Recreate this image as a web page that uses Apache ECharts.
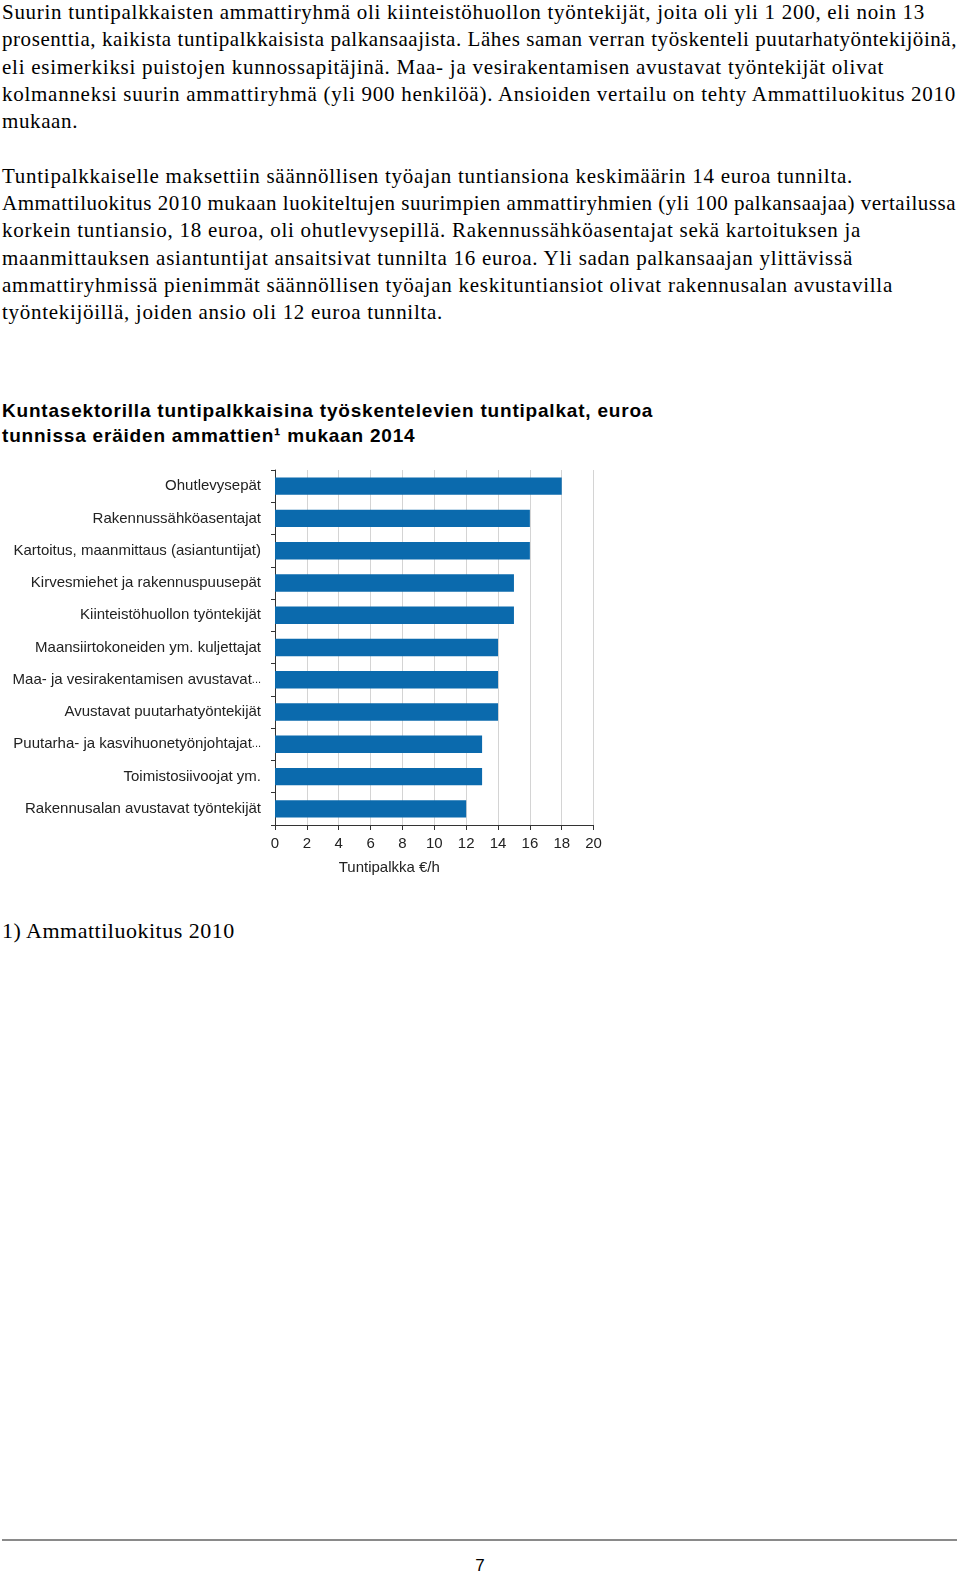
<!DOCTYPE html>
<html>
<head>
<meta charset="utf-8">
<script src="https://cdn.jsdelivr.net/npm/echarts@6/dist/echarts.min.js"></script>
<style>
    html, body { margin: 0; padding: 0; background: #fff; }
    body { width: 960px; height: 1572px; position: relative; overflow: hidden; }
    .txt {
        position: absolute; left: 2px;
        font-family: "Liberation Serif", "Times New Roman", serif;
        font-size: 21px; line-height: 27.3px; color: #000; white-space: nowrap;
    }
    .txt span { display: inline-block; }
    .title {
        position: absolute; left: 2px; top: 398px;
        font-family: "Liberation Sans", Arial, sans-serif;
        font-weight: bold; font-size: 19px; letter-spacing: 0.8px; line-height: 25px; color: #000; white-space: nowrap;
    }
    #chart { position: absolute; left: 0; top: 460px; width: 640px; height: 420px; }
    .rule { position: absolute; left: 2px; width: 955px; top: 1539px; border-top: 2px solid #8a8a8a; }
    .page { position: absolute; left: 0; width: 960px; top: 1556px; text-align: center;
        font-family: "Liberation Sans", Arial, sans-serif; font-size: 17px; }
</style>
</head>
<body>
<div class="txt" style="top:-1px">
<span data-w="925">Suurin tuntipalkkaisten ammattiryhmä oli kiinteistöhuollon työntekijät, joita oli yli 1 200, eli noin 13</span><br>
<span data-w="957">prosenttia, kaikista tuntipalkkaisista palkansaajista. Lähes saman verran työskenteli puutarhatyöntekijöinä,</span><br>
<span data-w="884">eli esimerkiksi puistojen kunnossapitäjinä. Maa- ja vesirakentamisen avustavat työntekijät olivat</span><br>
<span data-w="956">kolmanneksi suurin ammattiryhmä (yli 900 henkilöä). Ansioiden vertailu on tehty Ammattiluokitus 2010</span><br>
<span data-w="78">mukaan.</span><br>
<br>
<span data-w="853">Tuntipalkkaiselle maksettiin säännöllisen työajan tuntiansiona keskimäärin 14 euroa tunnilta.</span><br>
<span data-w="956">Ammattiluokitus 2010 mukaan luokiteltujen suurimpien ammattiryhmien (yli 100 palkansaajaa) vertailussa</span><br>
<span data-w="861">korkein tuntiansio, 18 euroa, oli ohutlevysepillä. Rakennussähköasentajat sekä kartoituksen ja</span><br>
<span data-w="853">maanmittauksen asiantuntijat ansaitsivat tunnilta 16 euroa. Yli sadan palkansaajan ylittävissä</span><br>
<span data-w="893">ammattiryhmissä pienimmät säännöllisen työajan keskituntiansiot olivat rakennusalan avustavilla</span><br>
<span data-w="443">työntekijöillä, joiden ansio oli 12 euroa tunnilta.</span>
</div>

<div class="title">
Kuntasektorilla tuntipalkkaisina työskentelevien tuntipalkat, euroa<br>
tunnissa eräiden ammattien¹ mukaan 2014
</div>

<div id="chart"></div>

<div class="txt" style="top:917px; font-size:22px; letter-spacing:0.5px;">1) Ammattiluokitus 2010</div>

<div class="rule"></div>
<div class="page">7</div>

<script>
    // tekstirivien leveys kuten alkuperäisessä
    document.querySelectorAll('.txt span[data-w]').forEach(function (el) {
        var target = +el.getAttribute('data-w') - 2;
        var natural = el.getBoundingClientRect().width;
        var n = el.textContent.length;
        el.style.letterSpacing = ((target - natural) / n).toFixed(3) + 'px';
    });

    // ammatit ylhäältä alas
    var occupations = [
        'Ohutlevysepät',
        'Rakennussähköasentajat',
        'Kartoitus, maanmittaus (asiantuntijat)',
        'Kirvesmiehet ja rakennuspuusepät',
        'Kiinteistöhuollon työntekijät',
        'Maansiirtokoneiden ym. kuljettajat',
        'Maa- ja vesirakentamisen avustavat...',
        'Avustavat puutarhatyöntekijät',
        'Puutarha- ja kasvihuonetyönjohtajat...',
        'Toimistosiivoojat ym.',
        'Rakennusalan avustavat työntekijät'
    ];
    var hourlyPay = [18, 16, 16, 15, 15, 14, 14, 14, 13, 13, 12];
    var axisTicks = [0, 2, 4, 6, 8, 10, 12, 14, 16, 18, 20];

    var myChart = echarts.init(document.getElementById('chart'));
    myChart.setOption({
        animation: false,
        textStyle: { fontFamily: 'Liberation Sans, Arial, sans-serif' },
        grid: { left: 275, top: 10, width: 318.6, height: 356.7 },
        xAxis: {
            type: 'value',
            min: axisTicks[0],
            max: axisTicks[axisTicks.length - 1],
            interval: 2,
            name: 'Tuntipalkka €/h',
            nameLocation: 'middle',
            nameGap: 35,
            nameTextStyle: { color: '#222', fontSize: 15, padding: [0, 90, 0, 0] },
            axisLine: { show: true, lineStyle: { color: '#333', width: 1 } },
            axisTick: { show: true, length: 5, lineStyle: { color: '#333' } },
            axisLabel: { color: '#222', fontSize: 15, margin: 11 },
            splitLine: { show: true, lineStyle: { color: '#d4d4d4' } }
        },
        yAxis: {
            type: 'category',
            inverse: true,
            data: occupations,
            axisLine: { show: true, lineStyle: { color: '#333', width: 1 } },
            axisTick: { show: true, length: 4, lineStyle: { color: '#333' } },
            axisLabel: {
                color: '#222', fontSize: 15, margin: 14,
                formatter: function (v) {
                    // katkaistut nimet: pisteet pienempinä kuten kuvassa
                    if (v.slice(-3) === '...') {
                        return v.slice(0, -3) + '{dots|...}';
                    }
                    return v;
                },
                rich: {
                    dots: { color: '#222', fontSize: 11 }
                }
            }
        },
        series: [{
            type: 'bar',
            data: hourlyPay,
            barCategoryGap: '46%',
            itemStyle: { color: '#0b6aad' }
        }]
    });
</script>
</body>
</html>
